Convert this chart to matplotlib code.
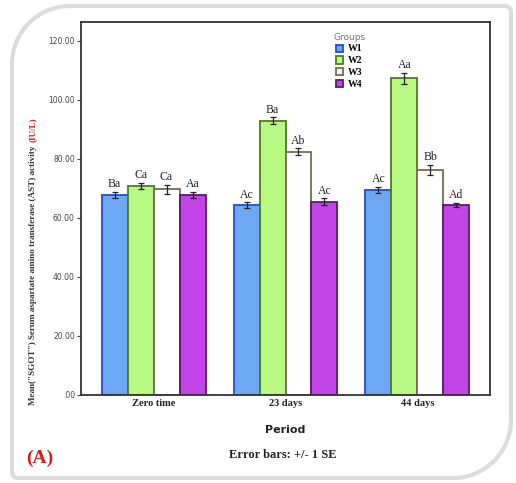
import numpy as np
import matplotlib.pyplot as plt
from matplotlib.patches import Polygon

# data
periods = ["Zero time", "23 days", "44 days"]
groups = ["W1", "W2", "W3", "W4"]
w1 = [67.8, 64.4, 69.5]
w2 = [70.8, 93.0, 107.3]
w3 = [69.7, 82.5, 76.3]
w4 = [67.8, 65.5, 64.4]
w1_se = [1.0, 0.9, 1.1]
w2_se = [1.1, 1.2, 1.9]
w3_se = [1.5, 1.1, 1.7]
w4_se = [1.0, 1.1, 0.8]
w1_lbl = ["Ba", "Ac", "Ac"]
w2_lbl = ["Ca", "Ba", "Aa"]
w3_lbl = ["Ca", "Ab", "Bb"]
w4_lbl = ["Aa", "Ac", "Ad"]
yticks = [0, 20, 40, 60, 80, 100, 120]
ytick_labels = [".00", "20.00", "40.00", "60.00", "80.00", "100.00", "120.00"]

fills = ["#6fa8f2", "#b9f983", "#ffffff", "#c243e6"]
edges = ["#1d4fcf", "#4d7a22", "#7a6a55", "#5a1870"]

fig = plt.figure(figsize=(5.16, 4.83), dpi=100)

# rounded "diagonal corner" frame around the whole figure
def frame_path(x0, y0, x1, y1, r_big, r_small):
    pts = []
    def arc(cx, cy, r, a0, a1):
        for a in np.linspace(a0, a1, 20):
            pts.append((cx + r * np.cos(a), cy + r * np.sin(a)))
    arc(x0 + r_small, y0 + r_small, r_small, np.pi, 1.5 * np.pi)      # bottom-left
    arc(x1 - r_big, y0 + r_big, r_big, 1.5 * np.pi, 2 * np.pi)        # bottom-right
    arc(x1 - r_small, y1 - r_small, r_small, 0, 0.5 * np.pi)          # top-right
    arc(x0 + r_big, y1 - r_big, r_big, 0.5 * np.pi, np.pi)            # top-left
    return np.array(pts)

W, H = 516, 483
pts = frame_path(12, 483 - 478, 511, 483 - 6, 58, 6)
pts[:, 0] /= W
pts[:, 1] /= H
fig.patches.append(Polygon(pts, closed=True, transform=fig.transFigure,
                           facecolor="white", edgecolor="#dcdcdc", linewidth=3,
                           zorder=-5))

ax = fig.add_axes([81 / W, 1 - 395 / H, (490 - 81) / W, (395 - 22) / H])
ax.set_zorder(2)
ax.set_facecolor("white")

x = np.arange(len(periods))
width = 0.197
series = [w1, w2, w3, w4]
errs = [w1_se, w2_se, w3_se, w4_se]
lbls = [w1_lbl, w2_lbl, w3_lbl, w4_lbl]
for i, (vals, se, lb) in enumerate(zip(series, errs, lbls)):
    pos = x + (i - 1.5) * width
    ax.bar(pos, vals, width, color=fills[i], edgecolor=edges[i], linewidth=1.3,
           label=groups[i], zorder=2)
    ax.errorbar(pos, vals, yerr=se, fmt="none", ecolor="#222222",
                elinewidth=0.9, capsize=2.2, capthick=0.9, zorder=3)
    for p, v, e, t in zip(pos, vals, se, lb):
        ax.text(p, v + e + 0.5, t, ha="center", va="bottom",
                family="Liberation Serif", fontsize=8.5, color="#222222")

ax.set_xlim(-0.55, 2.55)
ax.set_ylim(0, 126.4)
ax.set_yticks(yticks)
ax.set_yticklabels(ytick_labels, fontsize=5.5, color="#444444")
ax.tick_params(axis="y", length=3, width=0.8, color="#444444", pad=1.5)
ax.set_xticks(x)
ax.set_xticklabels(periods, family="Liberation Serif", fontweight="bold",
                   fontsize=7.5, color="#222222")
ax.tick_params(axis="x", length=0, pad=3)
for s in ax.spines.values():
    s.set_color("#333333")
    s.set_linewidth(1.3)

ax.set_xlabel("Period", fontsize=8, fontweight="bold", color="#222222", labelpad=12)

# y label with red units
ylab = fig.text(33 / W, 1 - 405 / H,
                'Mean("SGOT") Serum aspartate amino transferase (AST) activity',
                rotation=90, ha="center", va="bottom", family="Liberation Serif",
                fontweight="bold", fontsize=6.6, color="#333333")
fig.canvas.draw()
bb = ylab.get_window_extent()
fig.text(33 / W, (bb.y1 + 3) / H, "(IU/L)", rotation=90, ha="center", va="bottom",
         family="Liberation Serif", fontweight="bold", fontsize=6.6,
         color="#d42020")

leg = ax.legend(title="Groups", loc="upper left", bbox_to_anchor=(0.6, 0.99),
                frameon=False, handlelength=0.75, handleheight=0.75,
                handletextpad=0.5, labelspacing=0.3, borderpad=0.2,
                prop={"family": "Liberation Serif", "weight": "bold", "size": 7})
leg.get_title().set_fontsize(6.5)
leg.get_title().set_color("#777777")

fig.text(283 / W, 1 - 455 / H, "Error bars: +/- 1 SE", ha="center", va="center",
         family="Liberation Serif", fontweight="bold", fontsize=9, color="#222222")
fig.text(40 / W, 1 - 458 / H, "(A)", ha="center", va="center",
         family="Liberation Serif", fontweight="bold", fontsize=14, color="#cc1f1f")

fig.savefig("out.png", dpi=100)
